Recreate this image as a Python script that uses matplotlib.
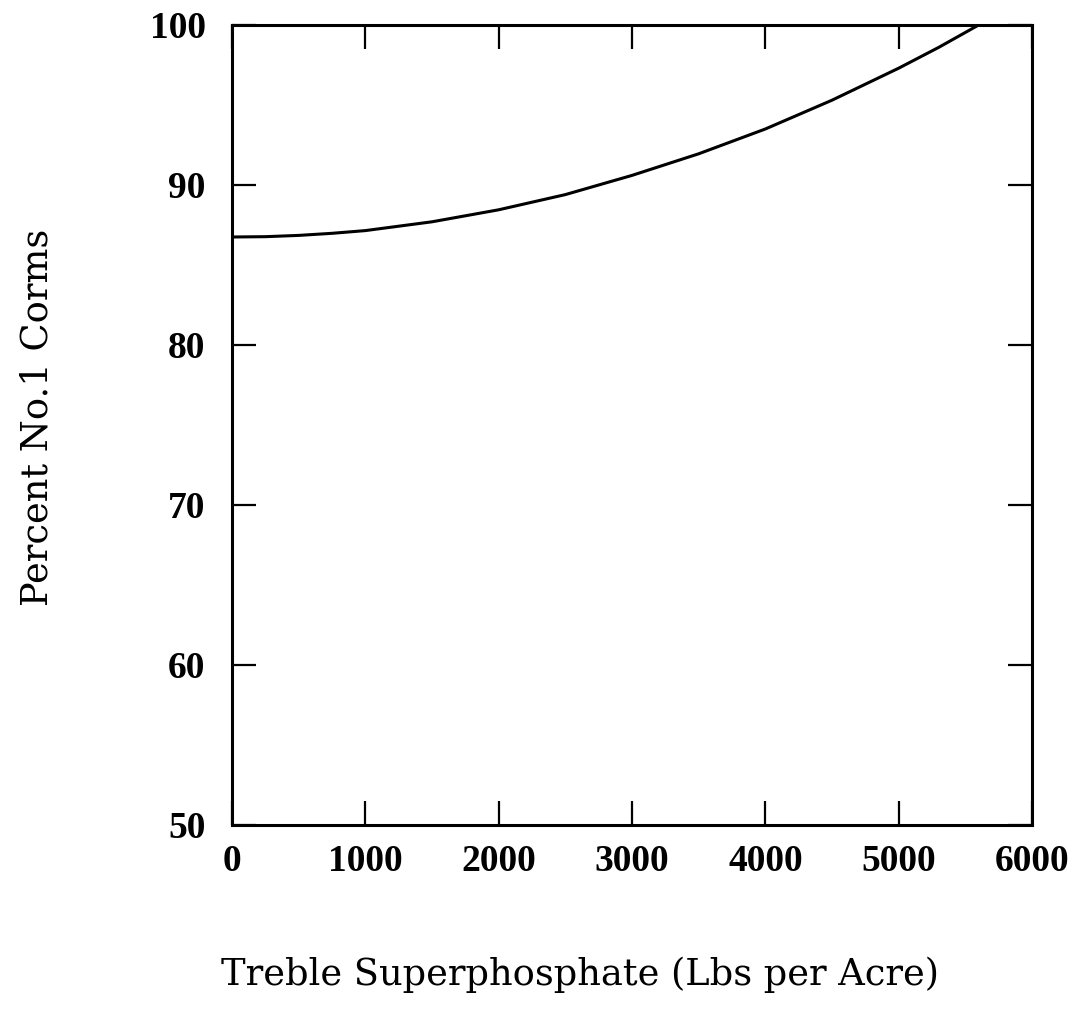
import matplotlib
matplotlib.use("Agg")
import matplotlib.pyplot as plt

# Data
phosphate = [0, 250, 500, 750, 1000, 1500, 2000, 2500, 3000, 3500, 4000, 4500, 5000, 5300, 5600]
percent_no1 = [86.75, 86.77, 86.85, 86.98, 87.15, 87.7, 88.45, 89.4, 90.6, 91.95, 93.5, 95.3, 97.3, 98.6, 100.0]

x_ticks = [0, 1000, 2000, 3000, 4000, 5000, 6000]
y_ticks = [50, 60, 70, 80, 90, 100]

fig = plt.figure(figsize=(10.77, 10.34), dpi=100)
ax = fig.add_axes([232/1077, 1 - 825/1034, 800/1077, 800/1034])

ax.plot(phosphate, percent_no1, color="black", linewidth=2.2)
ax.set_xlim(0, 6000)
ax.set_ylim(50, 100)
ax.set_xticks(x_ticks)
ax.set_yticks(y_ticks)

tick_font = "Liberation Serif"
label_font = "DejaVu Serif"
ax.set_xticklabels([str(t) for t in x_ticks], fontfamily=tick_font, fontsize=27, fontweight="bold")
ax.set_yticklabels([str(t) for t in y_ticks], fontfamily=tick_font, fontsize=27, fontweight="bold")
ax.tick_params(direction="in", length=17, width=1.6, top=True, right=True)
ax.tick_params(axis="x", pad=14)
ax.tick_params(axis="y", pad=19)

for s in ax.spines.values():
    s.set_linewidth(2.2)

fig.text(580/1077, 1 - 975/1034, "Treble Superphosphate (Lbs per Acre)", ha="center", va="center",
         fontfamily=label_font, fontsize=26.5)
fig.text(38/1077, 1 - 417/1034, "Percent No.1 Corms", ha="center", va="center", rotation=90,
         fontfamily=label_font, fontsize=26.5)

fig.savefig("out.png", dpi=100)
